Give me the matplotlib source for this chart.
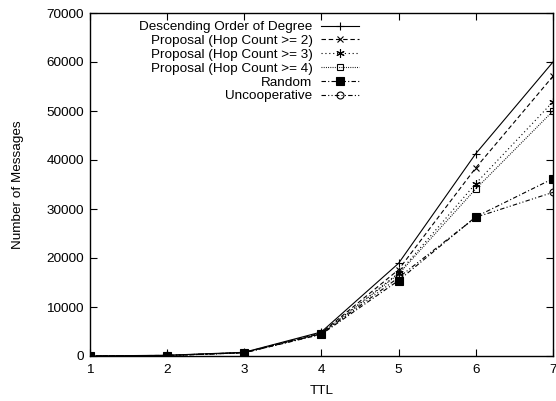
import matplotlib
matplotlib.use("Agg")
import matplotlib.pyplot as plt

plt.rcParams['font.family'] = ['Liberation Sans', 'DejaVu Sans']

ttl = [1, 2, 3, 4, 5, 6, 7]
desc = [10, 150, 750, 4900, 18900, 41300, 60000]
hop2 = [10, 120, 700, 4700, 17600, 38400, 57100]
hop3 = [10, 110, 680, 4600, 16900, 35200, 51900]
hop4 = [10, 100, 670, 4550, 16700, 34100, 50000]
rand = [10, 80, 650, 4400, 15400, 28400, 36200]
uncoop = [10, 90, 660, 4500, 16000, 28300, 33400]

labels = ["Descending Order of Degree", "Proposal (Hop Count >= 2)",
          "Proposal (Hop Count >= 3)", "Proposal (Hop Count >= 4)",
          "Random", "Uncooperative"]

fs = 9.7
fig = plt.figure(figsize=(5.56, 4.01), dpi=100)
ax = fig.add_axes([89.5/556, 1 - 356/401, (553 - 89.5)/556, (356 - 13)/401])

lw = 0.8
ms = 5
ax.plot(ttl, desc, color='black', lw=lw, ls='-', marker='+', ms=ms+1, mew=0.8, label=labels[0])
ax.plot(ttl, hop2, color='black', lw=lw, ls=(0, (4, 2.5)), marker='x', ms=ms, mew=0.8, label=labels[1])
ax.plot(ttl, hop3, color='black', lw=lw, ls=(0, (1, 2.5)), marker=(6, 2, 0), ms=ms+1, mew=0.8, label=labels[2])
ax.plot(ttl, hop4, color='black', lw=lw, ls=(0, (0.8, 1.2)), marker='s', ms=ms, mew=0.8,
        mfc='none', label=labels[3])
ax.plot(ttl, rand, color='black', lw=lw, ls=(0, (4, 2, 1, 2)), marker='s', ms=ms+0.5, mew=0.8,
        mfc='black', label=labels[4])
ax.plot(ttl, uncoop, color='black', lw=lw, ls=(0, (4, 2, 1, 2, 1, 2)), marker='o', ms=ms, mew=0.8,
        mfc='none', label=labels[5])

ax.set_xlim(1, 7)
ax.set_ylim(0, 70000)
ax.set_xticks(ttl)
ax.set_yticks(range(0, 70001, 10000))
ax.tick_params(axis='both', direction='in', top=True, right=True, length=5, width=0.8,
               labelsize=fs)
ax.tick_params(axis='x', pad=6)
ax.tick_params(axis='y', pad=4)
for s in ax.spines.values():
    s.set_linewidth(1.0)
ax.set_xlabel("TTL", fontsize=fs, labelpad=6)
ax.set_ylabel("Number of Messages", fontsize=fs, labelpad=16)

leg = ax.legend(loc='upper right', bbox_to_anchor=(359/556, 1 - 21/401),
                bbox_transform=fig.transFigure, frameon=False, markerfirst=False,
                fontsize=fs, handlelength=2.85, handletextpad=0.6,
                labelspacing=0.1, borderpad=0, borderaxespad=0)

fig.savefig("out.png", dpi=100)
